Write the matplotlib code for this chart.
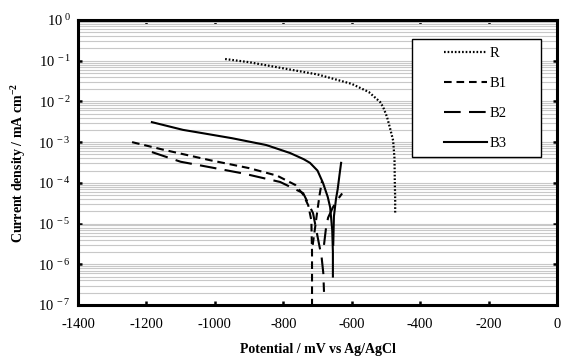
import math
import matplotlib
matplotlib.use("Agg")
import matplotlib.pyplot as plt
from matplotlib.ticker import FixedLocator, FuncFormatter, LogLocator, NullFormatter
from matplotlib.patches import Rectangle

plt.rcParams['font.family'] = ['Liberation Serif', 'DejaVu Serif']
plt.rcParams['mathtext.fontset'] = 'custom'
plt.rcParams['mathtext.rm'] = 'Liberation Serif'
plt.rcParams['mathtext.it'] = 'Liberation Serif:italic'
plt.rcParams['mathtext.bf'] = 'Liberation Serif:bold'
plt.rcParams['lines.scale_dashes'] = False

# ---- data (potential mV vs Ag/AgCl, current density mA cm^-2) ----
R_E = [-970, -900, -800, -700, -600, -550, -517, -508, -497, -488, -479, -475, -474, -473, -473]
R_I = [0.11, 0.092, 0.065, 0.046, 0.027, 0.017, 0.0097, 0.0072, 0.0042, 0.0022, 0.0011, 4e-4, 1e-4, 4e-5, 1.8e-5]

B1_cat_E = [-1242, -1150, -1014, -900, -818, -765, -742, -727, -718, -716, -716]
B1_cat_I = [1e-3, 6.5e-4, 3.6e-4, 2.3e-4, 1.5e-4, 8.9e-5, 5.2e-5, 2.8e-5, 1.2e-5, 2e-6, 1e-7]
B1_an_E = [-714, -707, -701, -694, -687]
B1_an_I = [3e-6, 8e-6, 1.9e-5, 5e-5, 1.1e-4]

B2_cat_E = [-1184, -1100, -1000, -917, -809, -742, -713, -698, -688, -683, -681]
B2_cat_I = [5.7e-4, 3.3e-4, 2.3e-4, 1.7e-4, 1.05e-4, 5.6e-5, 1.8e-5, 4e-6, 1.5e-6, 6e-7, 2.1e-7]
B2_an_E = [-681, -675, -669, -655, -640, -628]
B2_an_I = [3e-6, 8e-6, 1.4e-5, 2.5e-5, 4e-5, 5.5e-5]

B3_cat_E = [-1184, -1093, -1043, -950, -850, -780, -740, -722, -700, -684, -670, -663, -657, -655, -655]
B3_cat_I = [3.1e-3, 2e-3, 1.7e-3, 1.25e-3, 8.5e-4, 5.4e-4, 3.8e-4, 3.1e-4, 2e-4, 1e-4, 4.5e-5, 2.5e-5, 7e-6, 2e-6, 5e-7]
B3_an_E = [-654, -652, -646, -641, -636, -631]
B3_an_I = [3e-6, 1.5e-5, 4e-5, 7e-5, 1.5e-4, 3.1e-4]

x_ticks = [-1400, -1200, -1000, -800, -600, -400, -200, 0]
y_decades = [-7, -6, -5, -4, -3, -2, -1, 0]

fig = plt.figure(figsize=(5.63, 3.61), dpi=100)
ax = fig.add_axes([78/563, 1-305/361, (557-78)/563, 285/361])

ax.set_yscale('log')
ax.set_xlim(-1400, 0)
ax.set_ylim(1e-7, 1)

# gridlines (horizontal only)
ax.yaxis.set_minor_locator(LogLocator(base=10, subs=range(2, 10), numticks=20))
ax.yaxis.set_minor_formatter(NullFormatter())
ax.grid(True, which='both', axis='y', color='#c8c8c8', linewidth=0.8, zorder=0)
ax.set_axisbelow(True)

# curves
ax.plot(R_E, R_I, color='black', linewidth=1.6, dashes=(1.2, 1.4), label='R')
ax.plot(B1_cat_E, B1_cat_I, color='black', linewidth=1.5, dashes=(5.5, 3.5), label='B1')
ax.plot(B1_an_E, B1_an_I, color='black', linewidth=1.5, dashes=(5.5, 3.5))
ax.plot(B2_cat_E, B2_cat_I, color='black', linewidth=1.5, dashes=(12, 6), label='B2')
ax.plot(B2_an_E, B2_an_I, color='black', linewidth=1.5, dashes=(12, 6))
ax.plot(B3_cat_E, B3_cat_I, color='black', linewidth=1.5, label='B3')
ax.plot(B3_an_E, B3_an_I, color='black', linewidth=1.5)

# ticks
ax.xaxis.set_major_locator(FixedLocator(x_ticks))
ax.set_xticklabels([str(v) for v in x_ticks])
ax.yaxis.set_major_locator(FixedLocator([10.0**d for d in y_decades]))
ax.yaxis.set_major_formatter(FuncFormatter(
    lambda v, p: r'$\mathregular{10^{\ %d}}$' % round(math.log10(v))))
ax.tick_params(which='major', direction='in', length=3, width=1.8,
               top=True, right=True, labelsize=10.5)
ax.tick_params(which='minor', length=0)
ax.tick_params(axis='x', pad=9)
ax.tick_params(axis='y', pad=5)
for s in ax.spines.values():
    s.set_linewidth(2.2)

ax.set_xlabel('Potential / mV vs Ag/AgCl', fontsize=10, fontweight='bold', labelpad=9)
ax.set_ylabel(r'Current density / mA cm$^{\mathbf{-2}}$', fontsize=10, fontweight='bold', labelpad=7)

# legend
ax.add_patch(Rectangle((0.697, 0.519), 0.270, 0.414, transform=ax.transAxes,
                       facecolor='white', edgecolor='black', linewidth=1.0, zorder=5))
leg = ax.legend(loc='upper left', bbox_to_anchor=(0.765, 0.905), frameon=False,
                fontsize=10.5, handlelength=2.9, handletextpad=0.2,
                labelspacing=1.15, borderpad=0, borderaxespad=0)
leg.set_zorder(6)

fig.savefig('out.png', dpi=100)
